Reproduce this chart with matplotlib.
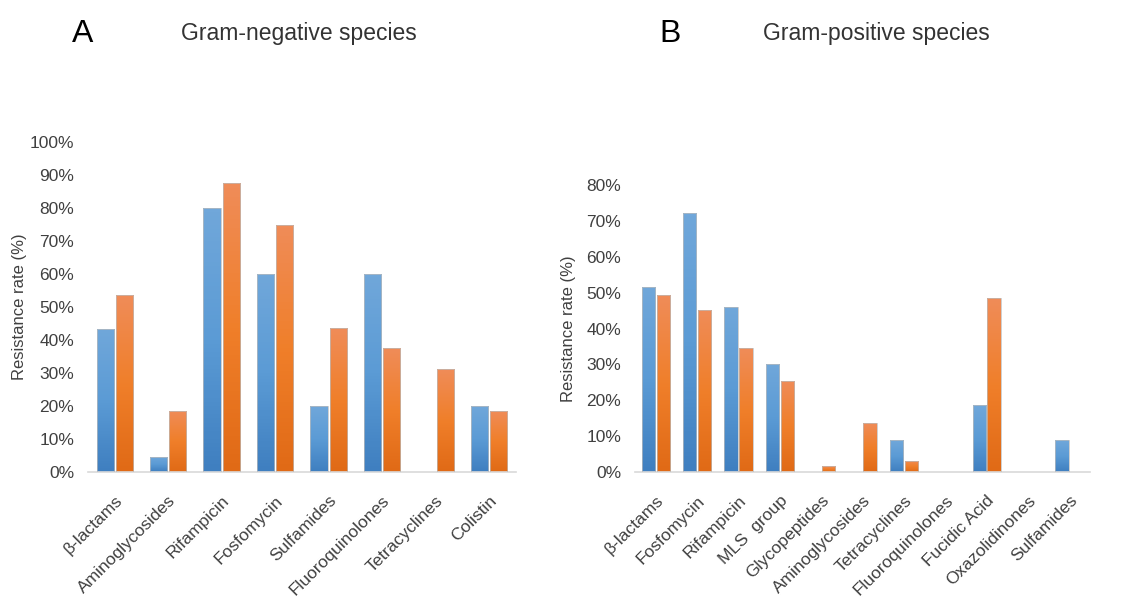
import numpy as np
import matplotlib
matplotlib.use('Agg')
import matplotlib.pyplot as plt
from matplotlib.colors import LinearSegmentedColormap

plt.rcParams['font.family'] = ['Liberation Sans', 'DejaVu Sans']

# Gram-negative species (A)
neg_cats = ['β-lactams', 'Aminoglycosides', 'Rifampicin', 'Fosfomycin',
            'Sulfamides', 'Fluoroquinolones', 'Tetracyclines', 'Colistin']
neg_blue = [43.3, 4.7, 80.0, 60.0, 20.0, 60.0, 0.0, 20.0]
neg_orange = [53.6, 18.6, 87.5, 75.0, 43.6, 37.5, 31.2, 18.6]

# Gram-positive species (B)
pos_cats = ['β-lactams', 'Fosfomycin', 'Rifampicin', 'MLS  group', 'Glycopeptides',
            'Aminoglycosides', 'Tetracyclines', 'Fluoroquinolones', 'Fucidic Acid',
            'Oxazolidinones', 'Sulfamides']
pos_blue = [51.7, 72.3, 46.1, 30.2, 0.0, 0.0, 8.8, 0.0, 18.6, 0.0, 8.8]
pos_orange = [49.3, 45.2, 34.5, 25.5, 1.6, 13.6, 3.2, 0.0, 48.4, 0.0, 0.0]

blue_cmap = LinearSegmentedColormap.from_list('b', ['#3f7fc0', '#5b9bd5', '#70a7da'])
orange_cmap = LinearSegmentedColormap.from_list('o', ['#e06a16', '#f07f2a', '#ef8c58'])
grad = np.linspace(0, 1, 64).reshape(-1, 1)

text_col = '#404040'


def gradient_bars(ax, x, vals, width, cmap):
    bars = ax.bar(x, vals, width, color='none', edgecolor='#bcbcbc', linewidth=0.5, zorder=3)
    for b in bars:
        h = b.get_height()
        if h <= 0:
            continue
        x0 = b.get_x()
        im = ax.imshow(grad, cmap=cmap, origin='lower', aspect='auto',
                       extent=[x0, x0 + b.get_width(), 0, h], zorder=2)
        im.set_clip_path(b)
    return bars


def draw_panel(ax, cats, blue, orange, ymax):
    x = np.arange(len(cats))
    w = 0.32
    gradient_bars(ax, x - 0.18, blue, w, blue_cmap)
    gradient_bars(ax, x + 0.18, orange, w, orange_cmap)
    ax.set_xlim(-0.5, len(cats) - 0.5)
    ax.set_ylim(0, ymax)
    ax.set_yticks(np.arange(0, ymax + 1, 10))
    ax.set_yticklabels([f'{v:.0f}%' for v in np.arange(0, ymax + 1, 10)])
    ax.set_xticks(x)
    ax.set_xticklabels(cats, rotation=45, ha='right', rotation_mode='anchor')
    ax.tick_params(axis='both', length=0, labelsize=12.5, colors=text_col)
    ax.tick_params(axis='y', pad=10)
    ax.tick_params(axis='x', pad=15)
    for s in ['top', 'right', 'left']:
        ax.spines[s].set_visible(False)
    ax.spines['bottom'].set_color('#d9d9d9')
    ax.spines['bottom'].set_linewidth(1.2)
    ax.set_ylabel('Resistance rate (%)', fontsize=12, color=text_col)


fig = plt.figure(figsize=(11.35, 6.01), dpi=100)
ax1 = fig.add_axes([0.0775, 0.2146, 0.377, 0.549])
ax2 = fig.add_axes([0.5595, 0.2146, 0.4009, 0.4775])

draw_panel(ax1, neg_cats, neg_blue, neg_orange, 100)
draw_panel(ax2, pos_cats, pos_blue, pos_orange, 80)
ax1.yaxis.set_label_coords(-0.1425, 0.5)
ax2.yaxis.set_label_coords(-0.13, 0.5)

fig.text(0.063, 0.944, 'A', fontsize=23, color='black', va='center', ha='left')
fig.text(0.263, 0.945, 'Gram-negative species', fontsize=16.5, color='#333333', va='center', ha='center')
fig.text(0.581, 0.944, 'B', fontsize=23, color='black', va='center', ha='left')
fig.text(0.772, 0.945, 'Gram-positive species', fontsize=16.5, color='#333333', va='center', ha='center')

fig.savefig('out.png', dpi=100, facecolor='white')
